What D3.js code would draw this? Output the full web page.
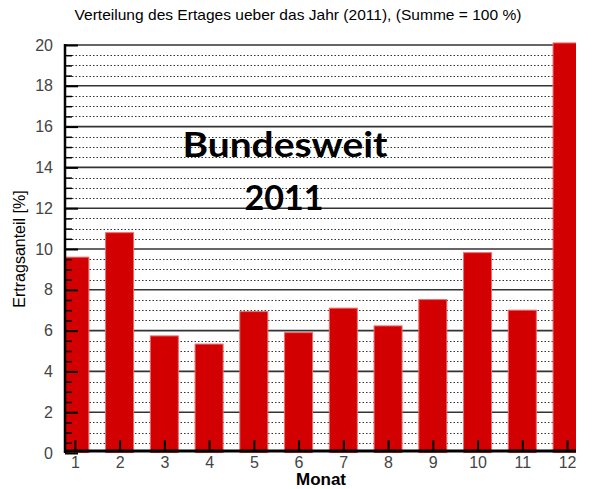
<!DOCTYPE html>
<html>
<head>
<meta charset="utf-8">
<script src="https://cdn.jsdelivr.net/npm/d3@7"></script>
<style>
  body { margin: 0; background: #fff; }
  svg { display: block; }
  .tick text { font-family: "Liberation Sans", Arial, sans-serif; font-size: 16px; fill: #444; }
</style>
</head>
<body>
<div id="chart"></div>
<script>
// Monatswerte (Anteil am Jahresertrag in %)
const months = [1, 2, 3, 4, 5, 6, 7, 8, 9, 10, 11, 12];
const shares = [9.6, 10.8, 5.74, 5.34, 6.93, 5.9, 7.1, 6.23, 7.52, 9.82, 7.0, 20.1];
const yMajorTicks = [0, 2, 4, 6, 8, 10, 12, 14, 16, 18, 20];
const yMinorTicks = d3.range(0, 20.01, 0.5).filter(v => v % 2 !== 0);

const W = 592, H = 489;
const plot = {left: 65, right: 576, top: 45, bottom: 453};

const svg = d3.select("#chart").append("svg")
    .attr("width", W)
    .attr("height", H);

const x = d3.scaleLinear().domain([0.78, 12.2]).range([plot.left, plot.right]);
const y = d3.scaleLinear().domain([0, 20]).range([plot.bottom, plot.top]);

svg.append("defs").append("clipPath").attr("id", "plotclip")
   .append("rect").attr("x", plot.left).attr("y", 40)
   .attr("width", plot.right - plot.left).attr("height", plot.bottom - 40);

// Gitterlinien
const grid = svg.append("g");
grid.selectAll("line.minor")
    .data(yMinorTicks)
    .enter().append("line")
    .attr("class", "minor")
    .attr("x1", plot.left).attr("x2", plot.right)
    .attr("y1", d => Math.round(y(d)) + 0.5)
    .attr("y2", d => Math.round(y(d)) + 0.5)
    .attr("stroke", "#333")
    .attr("stroke-width", 1)
    .attr("stroke-dasharray", "1.5,2");
grid.selectAll("line.major")
    .data(yMajorTicks.filter(d => d > 0))
    .enter().append("line")
    .attr("class", "major")
    .attr("x1", plot.left).attr("x2", plot.right)
    .attr("y1", d => y(d))
    .attr("y2", d => y(d))
    .attr("stroke", "#333")
    .attr("stroke-width", 1.6);

// Beschriftung im Diagramm
svg.append("text")
   .attr("x", 285).attr("y", 157)
   .attr("text-anchor", "middle")
   .attr("font-family", "Lato, 'Open Sans', sans-serif")
   .attr("font-weight", "bold")
   .attr("font-size", 34)
   .attr("textLength", 205)
   .attr("lengthAdjust", "spacingAndGlyphs")
   .text("Bundesweit");
svg.append("text")
   .attr("x", 284).attr("y", 210)
   .attr("text-anchor", "middle")
   .attr("font-family", "Lato, 'Open Sans', sans-serif")
   .attr("font-weight", "bold")
   .attr("font-size", 34)
   .attr("textLength", 79)
   .attr("lengthAdjust", "spacingAndGlyphs")
   .text("2011");

// Balken
const barW = 28;
svg.append("g")
   .attr("clip-path", "url(#plotclip)")
   .selectAll("rect")
   .data(months)
   .enter().append("rect")
   .attr("x", d => x(d) - barW / 2)
   .attr("y", (d, i) => y(shares[i]))
   .attr("width", barW)
   .attr("height", (d, i) => y(0) - y(shares[i]))
   .attr("fill", "#d20000")
   .attr("stroke", "#ee6a6a")
   .attr("stroke-width", 1);

// Achsen (Ticks nach innen)
const yAxis = svg.append("g")
    .attr("transform", `translate(${plot.left},0)`)
    .call(d3.axisLeft(y).tickValues(yMajorTicks).tickSize(-13).tickPadding(12));
yAxis.selectAll(".tick line").attr("stroke", "#000").attr("stroke-width", 2);

const yMinor = svg.append("g")
    .attr("transform", `translate(${plot.left},0)`)
    .call(d3.axisLeft(y).tickValues(yMinorTicks).tickSize(-7).tickFormat(""));
yMinor.selectAll(".tick line").attr("stroke", "#000").attr("stroke-width", 1.5);

const xAxis = svg.append("g")
    .attr("transform", `translate(0,${plot.bottom - 2})`)
    .call(d3.axisBottom(x).tickValues(months).tickFormat(d3.format("d")).tickSize(-11).tickPadding(6));
xAxis.selectAll(".tick line").attr("stroke", "#000").attr("stroke-width", 2);

svg.selectAll(".domain").remove();

svg.append("line")
   .attr("x1", plot.left).attr("x2", plot.left)
   .attr("y1", plot.top - 1).attr("y2", plot.bottom)
   .attr("stroke", "#000").attr("stroke-width", 2.5);
svg.append("line")
   .attr("x1", plot.left - 1).attr("x2", plot.right)
   .attr("y1", plot.bottom - 2).attr("y2", plot.bottom - 2)
   .attr("stroke", "#000").attr("stroke-width", 3);

// Titel und Achsentitel
svg.append("text")
   .attr("x", 298).attr("y", 20)
   .attr("text-anchor", "middle")
   .attr("font-family", "'Liberation Sans', Arial, sans-serif")
   .attr("font-size", 15)
   .attr("textLength", 447)
   .attr("lengthAdjust", "spacingAndGlyphs")
   .text("Verteilung des Ertages ueber das Jahr (2011), (Summe = 100 %)");

svg.append("text")
   .attr("transform", "translate(25,249) rotate(-90)")
   .attr("text-anchor", "middle")
   .attr("font-family", "'Liberation Sans', Arial, sans-serif")
   .attr("font-size", 16)
   .text("Ertragsanteil [%]");

svg.append("text")
   .attr("x", 321).attr("y", 485)
   .attr("text-anchor", "middle")
   .attr("font-family", "'Liberation Sans', Arial, sans-serif")
   .attr("font-size", 17)
   .attr("font-weight", "bold")
   .text("Monat");
</script>
</body>
</html>
